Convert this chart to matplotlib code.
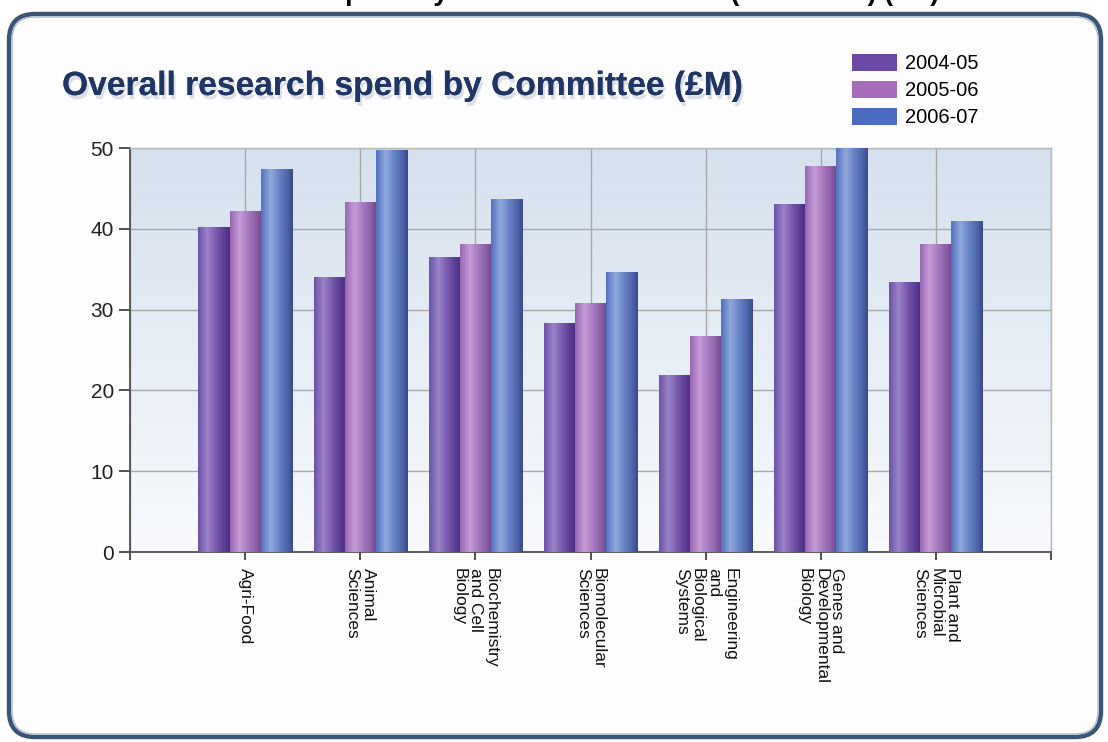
from matplotlib import pyplot as plt
from matplotlib.colors import LinearSegmentedColormap
from matplotlib.patches import FancyBboxPatch, Patch
import matplotlib.patheffects as pe
import numpy as np

categories = [
    "Agri-Food",
    "Animal\nSciences",
    "Biochemistry\nand Cell\nBiology",
    "Biomolecular\nSciences",
    "Engineering\nand\nBiological\nSystems",
    "Genes and\nDevelopmental\nBiology",
    "Plant and\nMicrobial\nSciences",
]
years = ["2004-05", "2005-06", "2006-07"]
spend_0405 = [40.2, 34.0, 36.4, 28.3, 21.8, 43.0, 33.4]
spend_0506 = [42.2, 43.3, 38.1, 30.7, 26.7, 47.7, 38.1]
spend_0607 = [47.3, 49.7, 43.6, 34.6, 31.2, 49.9, 40.9]
y_ticks = [0, 10, 20, 30, 40, 50]

W, H = 1108, 742
plt.rcParams["font.family"] = ["Liberation Sans", "DejaVu Sans"]

# solid colours (legend) and cylinder shading stops (bars)
solid = ["#6b4aa6", "#a56cba", "#4b6cc0"]
shades = [
    ["#6d52a8", "#9c84c8", "#7a5cb0", "#5a3a92", "#4a2c80"],
    ["#9866b2", "#c69cd6", "#a87cc0", "#885ca4", "#70468c"],
    ["#5272c0", "#90a8dc", "#6a86c8", "#4a62a8", "#394a86"],
]
stops = [0.0, 0.3, 0.55, 0.85, 1.0]

fig = plt.figure(figsize=(W / 100, H / 100), dpi=100, facecolor="white")

# full-figure pixel axes for the card frame and the titles
bg = fig.add_axes([0, 0, 1, 1])
bg.set_xlim(0, W)
bg.set_ylim(H, 0)
bg.axis("off")
bg.add_patch(FancyBboxPatch((9, 14), 1092, 723,
                            boxstyle="round,pad=0,rounding_size=26",
                            facecolor="#fdfdfe", edgecolor="#3d5575", lw=3.2))
bg.add_patch(FancyBboxPatch((12, 17), 1086, 717,
                            boxstyle="round,pad=0,rounding_size=23",
                            facecolor="none", edgecolor="#a9bdd3", lw=1.0))

# page heading cut off at the top edge (only descenders show)
bg.text(112, 0.5, "Overall research spend by Research Committee (2004-2007) (£M)",
        fontsize=19.4, fontweight="bold", color="black", va="baseline", ha="left")

title = bg.text(62, 95, "Overall research spend by Committee (£M)",
                family=["Liberation Sans Narrow", "Liberation Sans"],
                fontsize=29, fontweight="bold", color="#1f3565",
                va="baseline", ha="left",
                path_effects=[pe.withSimplePatchShadow(offset=(1.5, -3),
                                                       shadow_rgbFace="#aab4c0",
                                                       alpha=0.4),
                              pe.Normal()])
fig.canvas.draw()
tw = title.get_window_extent().width
title.set_fontsize(29 * 680 / tw)

ax = fig.add_axes([130 / W, 1 - 552 / H, 921 / W, 404 / H])
ax.patch.set_alpha(0)

# plot area gradient
grad = np.linspace(0, 1, 256).reshape(-1, 1)
bg_cmap = LinearSegmentedColormap.from_list("bgc", ["#d5e1ee", "#f8fafd"])
ax.imshow(grad, cmap=bg_cmap, extent=[0, 8, 0, 50], aspect="auto",
          origin="upper", zorder=0)

x = np.arange(1, len(categories) + 1)
bw = 0.27
row = np.linspace(0, 1, 128).reshape(1, -1)
for i, vals in enumerate([spend_0405, spend_0506, spend_0607]):
    bars = ax.bar(x + (i - 1) * bw, vals, width=bw, color=solid[i], zorder=2)
    cmap = LinearSegmentedColormap.from_list(f"bar{i}", list(zip(stops, shades[i])))
    for b in bars:
        ax.imshow(row, cmap=cmap, aspect="auto", zorder=3,
                  extent=[b.get_x(), b.get_x() + b.get_width(), 0, b.get_height()])

ax.set_xlim(0, 8)
ax.set_ylim(0, 50)
ax.set_axisbelow(True)
ax.set_xticks(range(0, 9))
ax.set_xticklabels([""] + categories + [""], rotation=270, ha="center", va="top",
                   ma="left", fontsize=12.5, linespacing=1.1, color="#111111")
ax.set_yticks(y_ticks)
ax.set_yticklabels([str(v) for v in y_ticks], fontsize=15, color="#222222")
ax.tick_params(axis="x", length=5.5, width=1.2, pad=6, color="#333333")
ax.tick_params(axis="y", length=8, width=1.2, pad=3.5, color="#333333")
ax.grid(True, color="#a8a8a8", lw=1)
for side in ["left", "bottom"]:
    ax.spines[side].set_color("#505050")
    ax.spines[side].set_linewidth(1.3)
for side in ["top", "right"]:
    ax.spines[side].set_color("#b8b8b8")
    ax.spines[side].set_linewidth(1)

handles = [Patch(facecolor=c, edgecolor="none") for c in solid]
fig.legend(handles, years, loc="upper left", bbox_to_anchor=(852 / W, 1 - 54 / H),
           frameon=False, fontsize=14.5, borderpad=0, borderaxespad=0,
           handlelength=2.25, handleheight=0.9, handletextpad=0.4,
           labelspacing=0.38)

plt.savefig("out.png", dpi=100)
